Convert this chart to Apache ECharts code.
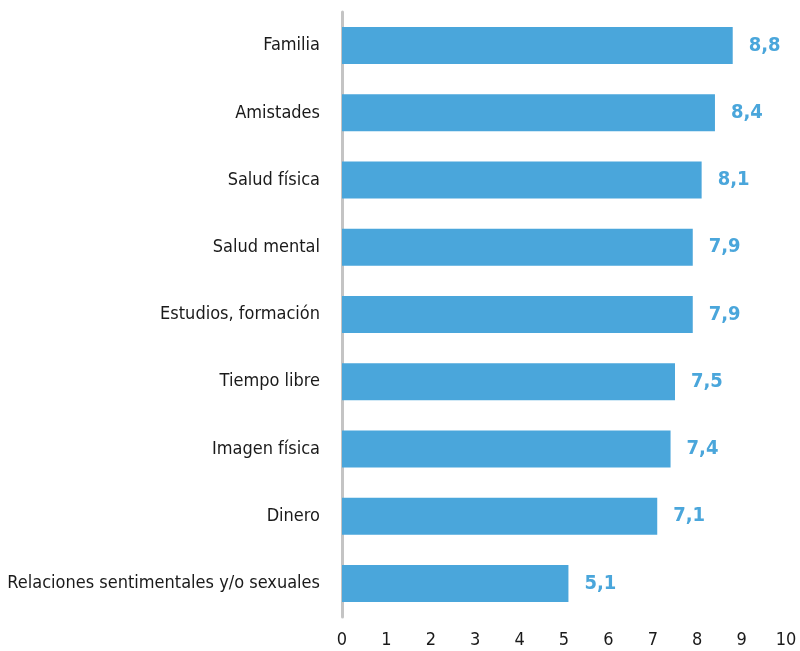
<!DOCTYPE html>
<html><head><meta charset="utf-8">
<script src="https://cdn.jsdelivr.net/npm/echarts@6/dist/echarts.min.js"></script>
<style>html,body{margin:0;padding:0;background:#fff}#c{width:800px;height:651px}</style>
</head><body><div id="c"></div>
<script>
const categories = ["Familia","Amistades","Salud física","Salud mental","Estudios, formación","Tiempo libre","Imagen física","Dinero","Relaciones sentimentales y/o sexuales"];
const values = [8.8,8.4,8.1,7.9,7.9,7.5,7.4,7.1,5.1];
const xTicks = [0,1,2,3,4,5,6,7,8,9,10];
const FONT = '"Liberation Sans Narrow","DejaVu Sans Condensed","Roboto Condensed",sans-serif';
const chart = echarts.init(document.getElementById('c'));
chart.setOption({
  animation:false,
  grid:{left:342,right:14,top:12,bottom:34,containLabel:false,outerBoundsMode:'none'},
  xAxis:{type:'value',min:0,max:10,interval:1,
    axisLine:{show:false},axisTick:{show:false},splitLine:{show:false},
    axisLabel:{margin:14,fontFamily:FONT,fontSize:18,color:'#1a1a1a',formatter:v=>xTicks.includes(v)?String(v):''}},
  yAxis:{type:'category',data:categories,inverse:true,
    axisLine:{show:true,lineStyle:{color:'#c4c4c4',width:3}},axisTick:{show:false},
    axisLabel:{margin:22,fontFamily:FONT,fontSize:18,color:'#1a1a1a'}},
  series:[{type:'bar',data:values,barWidth:37,
    itemStyle:{color:'#4aa6db'},
    label:{show:true,position:'right',distance:16,fontFamily:FONT,fontSize:20,fontWeight:'bold',color:'#4aa6db',
      formatter:p=>p.value.toFixed(1).replace('.',',')}}]
});
</script></body></html>
